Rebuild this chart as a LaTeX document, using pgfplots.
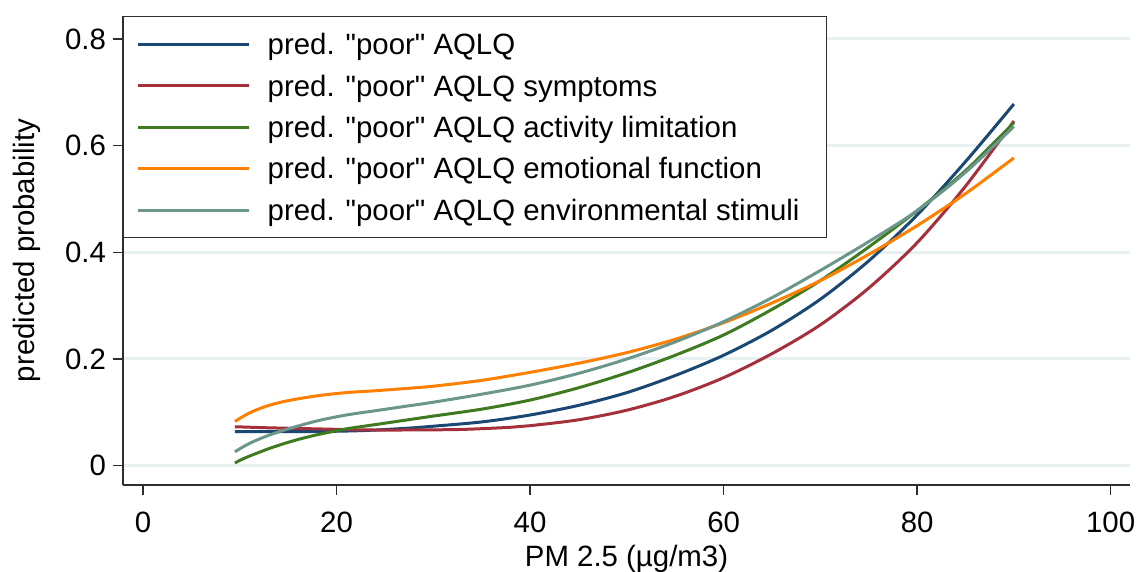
\documentclass[border=0pt]{standalone}
\usepackage{fontspec}
\setmainfont{Liberation Sans}
\newfontfamily\legfont{Liberation Sans}
\usepackage{pgfplots}
\pgfplotsset{compat=1.18}
\definecolor{axiscol}{RGB}{45,45,45}
\definecolor{gridcol}{RGB}{232,240,242}
\definecolor{cnavy}{RGB}{26,72,115}
\definecolor{cmaroon}{RGB}{165,48,60}
\definecolor{cgreen}{RGB}{62,122,32}
\definecolor{corange}{RGB}{255,128,0}
\definecolor{cteal}{RGB}{106,150,140}

\begin{document}
\begin{tikzpicture}
\begin{axis}[
  at={(0,0)}, anchor=south west,
  scale only axis, width=503.5pt, height=234.5pt,
  xmin=-2.07, xmax=102, ymin=-0.0362, ymax=0.843,
  axis x line*=bottom, axis y line*=left,
  axis line style={color=axiscol, line width=1pt},
  xtick={0,20,...,100}, ytick={0,0.2,0.4,0.6,0.8},
  tick align=outside, major tick length=5pt,
  tick style={color=axiscol, line width=0.75pt},
  ymajorgrids, major grid style={color=gridcol, line width=1.5pt},
  /pgf/number format/assume math mode=true,
  /pgf/number format/fixed,
  tick label style={font=\fontsize{14.7}{17}\selectfont},
  label style={font=\fontsize{14.7}{17}\selectfont},
  xticklabel style={anchor=base, yshift=-19pt},
  yticklabel style={anchor=east},
  xlabel={PM 2.5 (µg/m3)},
  ylabel={predicted probability},
  xlabel style={at={(axis description cs:0.5,-0.1748)}, anchor=base},
  ylabel style={at={(axis description cs:-0.0874,0.5)}, anchor=base},
  legend cell align=left,
  legend image code/.code={\draw[#1, line width=1.5pt] (0pt,0pt) -- (55.5pt,0pt);},
  legend style={at={(0,1)}, anchor=north west, draw=axiscol, line width=0.75pt,
    fill=white, font=\legfont\fontsize{14.7}{17}\selectfont,
    inner xsep=6.5pt, inner ysep=3.5pt, row sep=0pt, column sep=8.5pt,
    nodes={inner xsep=0pt, inner ysep=0pt, text height=15.5pt, text depth=5.2pt}},
  every axis plot/.append style={line width=1.5pt, smooth},
]
% pred. "poor" AQLQ
\addplot[cnavy] coordinates {(9.5,0.064)(13,0.064)(18,0.064)(23,0.066)(28,0.071)
  (30,0.074)(35,0.082)(40,0.095)(45,0.113)(50,0.137)(55,0.169)(60,0.207)
  (65,0.254)(70,0.312)(75,0.384)(80,0.470)(85,0.570)(90,0.678)};
\addlegendentry{pred. "poor" AQLQ}
% symptoms
\addplot[cmaroon] coordinates {(9.5,0.073)(13,0.071)(18,0.069)(23,0.067)(28,0.067)
  (33,0.068)(38,0.072)(40,0.075)(45,0.086)(50,0.104)(55,0.130)(60,0.165)
  (65,0.210)(70,0.264)(75,0.333)(80,0.418)(85,0.524)(90,0.646)};
\addlegendentry{pred. "poor" AQLQ symptoms}
% activity limitation
\addplot[cgreen] coordinates {(9.5,0.005)(10,0.010)(11,0.018)(12,0.025)(13,0.032)
  (14.5,0.041)(16,0.049)(18,0.058)(21,0.069)(24,0.077)(27,0.085)(30,0.093)
  (35,0.106)(40,0.123)(45,0.146)(50,0.174)(55,0.207)(60,0.245)(65,0.293)
  (70,0.347)(75,0.410)(80,0.478)(85,0.553)(90,0.643)};
\addlegendentry{pred. "poor" AQLQ activity limitation}
% emotional function
\addplot[corange] coordinates {(9.5,0.083)(10.5,0.094)(11.5,0.103)(13,0.113)
  (15,0.122)(18,0.131)(21,0.137)(24,0.1405)(27,0.1445)(30,0.149)(35,0.160)
  (40,0.175)(45,0.192)(50,0.212)(55,0.237)(60,0.268)(65,0.305)(70,0.347)
  (75,0.396)(80,0.450)(85,0.510)(90,0.577)};
\addlegendentry{pred. "poor" AQLQ emotional function}
% environmental stimuli
\addplot[cteal] coordinates {(9.5,0.026)(10.5,0.037)(11.5,0.046)(13,0.057)
  (15,0.069)(18,0.084)(21,0.095)(24,0.103)(27,0.111)(30,0.119)(35,0.134)
  (40,0.151)(45,0.173)(50,0.200)(55,0.232)(60,0.270)(65,0.315)(70,0.366)
  (75,0.420)(80,0.478)(85,0.550)(90,0.636)};
\addlegendentry{pred. "poor" AQLQ environmental stimuli\hspace*{7pt}}
\end{axis}
\pgfresetboundingbox
\path[use as bounding box] (-61.5pt,-43.5pt) rectangle (508pt,242.5pt);
\end{tikzpicture}
\end{document}
